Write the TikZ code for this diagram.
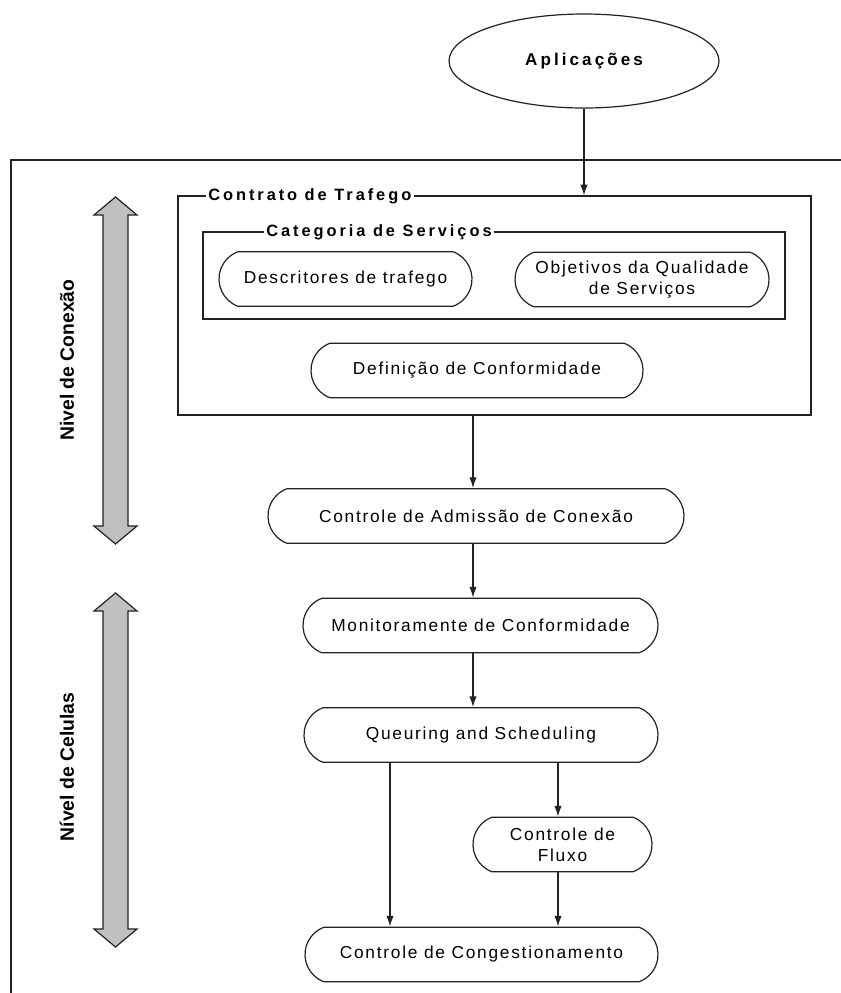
\documentclass[tikz,border=0pt]{standalone}
\usepackage{fontspec}
\setmainfont{Liberation Sans}
\newfontfamily\boxfont[LetterSpace=10]{Liberation Sans}
\newfontfamily\headfont[LetterSpace=18]{Liberation Sans}
\usetikzlibrary{shapes.misc,shapes.geometric,arrows.meta}
\definecolor{arrowgray}{HTML}{C0C0C0}
\definecolor{ink}{HTML}{222222}

\begin{document}
\begin{tikzpicture}[x=0.75pt,y=-0.75pt,
  line width=0.9pt, draw=ink,
  proc/.style={rounded rectangle, rounded rectangle arc length=140, draw=ink,
    font=\boxfont\fontsize{13}{16}\selectfont, align=center, inner sep=0pt,
    minimum height=41pt},
  frame/.style={draw=ink, inner sep=0pt},
  caption/.style={fill=white, inner xsep=2pt, inner ysep=1pt, anchor=west,
    font=\headfont\bfseries\fontsize{12.3}{14}\selectfont},
  flow/.style={draw=ink, -{Latex[length=8pt,width=5.5pt]}},
  level/.style={font=\bfseries\fontsize{14.5}{16}\selectfont, rotate=90},
  bigarrow/.style={draw=ink, fill=arrowgray, line width=0.9pt, line join=miter}
]
\useasboundingbox (0,0) rectangle (841,993);

% outer frame of the system
\draw (11,993) -- (11,160) -- (841,160);

% application on top
\node[draw=ink, ellipse, minimum width=202.5pt, minimum height=70.5pt,
  font=\headfont\bfseries\fontsize{12.8}{15}\selectfont] (app) at (584,61) {Aplicações};

% traffic contract and service category frames
\node[frame, minimum width=474.75pt, minimum height=164.25pt] (ctr) at (494.5,305.5) {};
\node[caption] (ctrlabel) at (205,196) {Contrato de Trafego};
\node[frame, minimum width=436.5pt, minimum height=65.25pt] (cat) at (494,275.5) {};
\node[caption] (catlabel) at (263,232) {Categoria de Serviços};

% process blocks
\node[proc, minimum width=189.75pt] (desc) at (345.5,279) {Descritores de trafego};
\node[proc, minimum width=190.5pt] (obj) at (642,279.5) {Objetivos da Qualidade\\de Serviços};
\node[proc, minimum width=249pt] (def) at (477,370.5) {Definição de Conformidade};
\node[proc, minimum width=312pt] (cac) at (476,516) {Controle de Admissão de Conexão};
\node[proc, minimum width=266.25pt] (mon) at (480.5,625.5) {Monitoramente de Conformidade};
\node[proc, minimum width=265.5pt] (que) at (481,735) {Queuring and Scheduling};
\node[proc, minimum width=134.25pt] (flu) at (562.5,844.5) {Controle de\\Fluxo};
\node[proc, minimum width=264.75pt] (cong) at (481.5,954.5) {Controle de Congestionamento};

% vertical positions of the connectors
\coordinate (spine) at (473,0);
\coordinate (lx) at (390,0);
\coordinate (rx) at (558,0);

% connectors
\draw[flow] (app.south) -- (app.south |- ctr.north);
\draw[flow] (ctr.south -| spine) -- (cac.north -| spine);
\draw[flow] (cac.south -| spine) -- (mon.north -| spine);
\draw[flow] (mon.south -| spine) -- (que.north -| spine);
\draw[flow] (que.south -| lx) -- (cong.north -| lx);
\draw[flow] (que.south -| rx) -- (flu.north -| rx);
\draw[flow] (flu.south -| rx) -- (cong.north -| rx);

% level indicators
\draw[bigarrow] (115.5,197) -- (137,215) -- (128,215) -- (128,526) -- (137,526)
  -- (115.5,544) -- (94,526) -- (103,526) -- (103,215) -- (94,215) -- cycle;
\draw[bigarrow] (115.5,593) -- (137,611) -- (128,611) -- (128,929) -- (137,929)
  -- (115.5,947) -- (94,929) -- (103,929) -- (103,611) -- (94,611) -- cycle;
\node[level] (lvc) at (67,360) {Nivel de Conexão};
\node[level] (lvl) at (67,767) {Nível de Celulas};
\end{tikzpicture}
\end{document}
